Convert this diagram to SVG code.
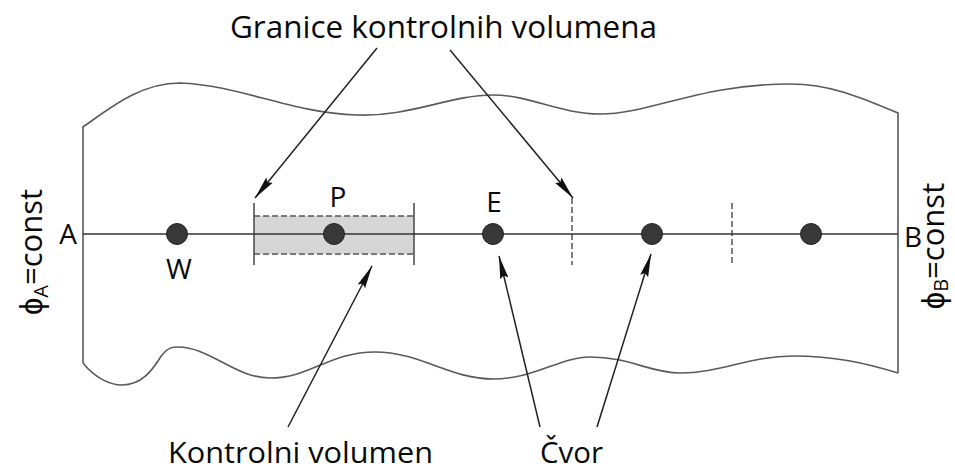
<svg xmlns="http://www.w3.org/2000/svg" width="955" height="472" viewBox="0 0 955 472">
  <style>
    .outline { fill: none; stroke: #5a5a5a; stroke-width: 1.6; }
    .axis { stroke: #333; stroke-width: 1.6; }
    .node { fill: #383838; stroke: #222; stroke-width: 1; }
    .bound { stroke: #444; stroke-width: 1.5; }
    .dash { stroke: #555; stroke-width: 1.5; stroke-dasharray: 6 3; fill: none; }
    .arrow { stroke: #222; stroke-width: 1.5; fill: none; marker-end: url(#head); }
    .lbl { font-family: "Open Sans", "Liberation Sans", Arial, sans-serif; fill: #0a0a0a; }
  </style>
  <defs>
    <marker id="head" markerUnits="userSpaceOnUse" markerWidth="26" markerHeight="12" refX="23" refY="5" orient="auto">
      <path d="M0,0.8 L23,5 L0,9.2 L3,5 Z" fill="#111"/>
    </marker>
  </defs>
  <rect width="955" height="472" fill="#fff"/>

  <!-- domain outline with wavy top and bottom -->
  <path class="outline" d="M83,363 L83,127 C110,108 140,83 180,83 C240,85 290,113 357,115 C410,117 450,95 493,95 C530,95 560,114 600,114 C650,114 700,84 790,84 C830,84 860,97 898,113 L898,373"/>
  <path class="outline" d="M83,363 C95,378 110,385 122,385 C145,385 155,365 162,355 C167,348 172,347 178,347 C210,347 235,378 270,378 C310,378 330,352 375,352 C420,352 450,379 493,379 C535,379 560,357 590,357 C630,357 650,373 680,373 C720,373 750,356 793,356 C835,356 865,363 898,373"/>

  <!-- control volume around P -->
  <g id="control-volume">
    <rect x="254" y="216" width="160" height="38" fill="#d6d6d6"/>
    <line class="dash" x1="254" y1="216" x2="414" y2="216"/>
    <line class="dash" x1="254" y1="254" x2="414" y2="254"/>
    <line class="bound" x1="254" y1="203" x2="254" y2="265"/>
    <line class="bound" x1="414" y1="203" x2="414" y2="265"/>
  </g>

  <!-- further volume faces -->
  <g id="faces">
    <line class="dash" x1="572" y1="198" x2="572" y2="265"/>
    <line class="dash" x1="732" y1="203" x2="732" y2="265"/>
  </g>

  <!-- axis A-B -->
  <line class="axis" x1="83" y1="234" x2="898" y2="234"/>

  <g id="node-W"><circle class="node" cx="177" cy="234" r="10.5"/><text class="lbl" x="179" y="279" font-size="28" text-anchor="middle">W</text></g>
  <g id="node-P"><circle class="node" cx="334" cy="234" r="10.5"/><text class="lbl" x="338" y="207" font-size="28" text-anchor="middle">P</text></g>
  <g id="node-E"><circle class="node" cx="493" cy="234" r="10.5"/><text class="lbl" x="494" y="212" font-size="28" text-anchor="middle">E</text></g>
  <g id="node-4"><circle class="node" cx="652" cy="234" r="10.5"/></g>
  <g id="node-5"><circle class="node" cx="811" cy="234" r="10.5"/></g>

  <g id="end-A"><text class="lbl" x="68" y="244" font-size="28" text-anchor="middle">A</text></g>
  <g id="end-B"><text class="lbl" x="913" y="247" font-size="28" text-anchor="middle">B</text></g>

  <!-- boundary conditions -->
  <g id="bc-A" transform="translate(42,252) rotate(-90)">
    <text class="lbl" x="0" y="0" font-size="31" text-anchor="middle">ϕ<tspan font-size="20" dy="6">A</tspan><tspan dy="-6">=const</tspan></text>
  </g>
  <g id="bc-B" transform="translate(944,246) rotate(-90)">
    <text class="lbl" x="0" y="0" font-size="31" text-anchor="middle">ϕ<tspan font-size="20" dy="4">B</tspan><tspan dy="-4">=const</tspan></text>
  </g>

  <!-- leader arrows -->
  <g id="connectors">
    <line class="arrow" x1="377" y1="48" x2="255" y2="198"/>
    <line class="arrow" x1="450" y1="50" x2="573" y2="198"/>
    <line class="arrow" x1="288" y1="427" x2="372" y2="266"/>
    <line class="arrow" x1="540" y1="427" x2="499" y2="256"/>
    <line class="arrow" x1="597" y1="427" x2="651" y2="254"/>
  </g>

  <g id="label-faces"><text class="lbl" x="230" y="38" font-size="31" textLength="427" lengthAdjust="spacingAndGlyphs">Granice kontrolnih volumena</text></g>
  <g id="label-cv"><text class="lbl" x="168" y="463" font-size="29" textLength="265" lengthAdjust="spacingAndGlyphs">Kontrolni volumen</text></g>
  <g id="label-node"><text class="lbl" x="540" y="463" font-size="29" textLength="63" lengthAdjust="spacingAndGlyphs">Čvor</text></g>
</svg>
